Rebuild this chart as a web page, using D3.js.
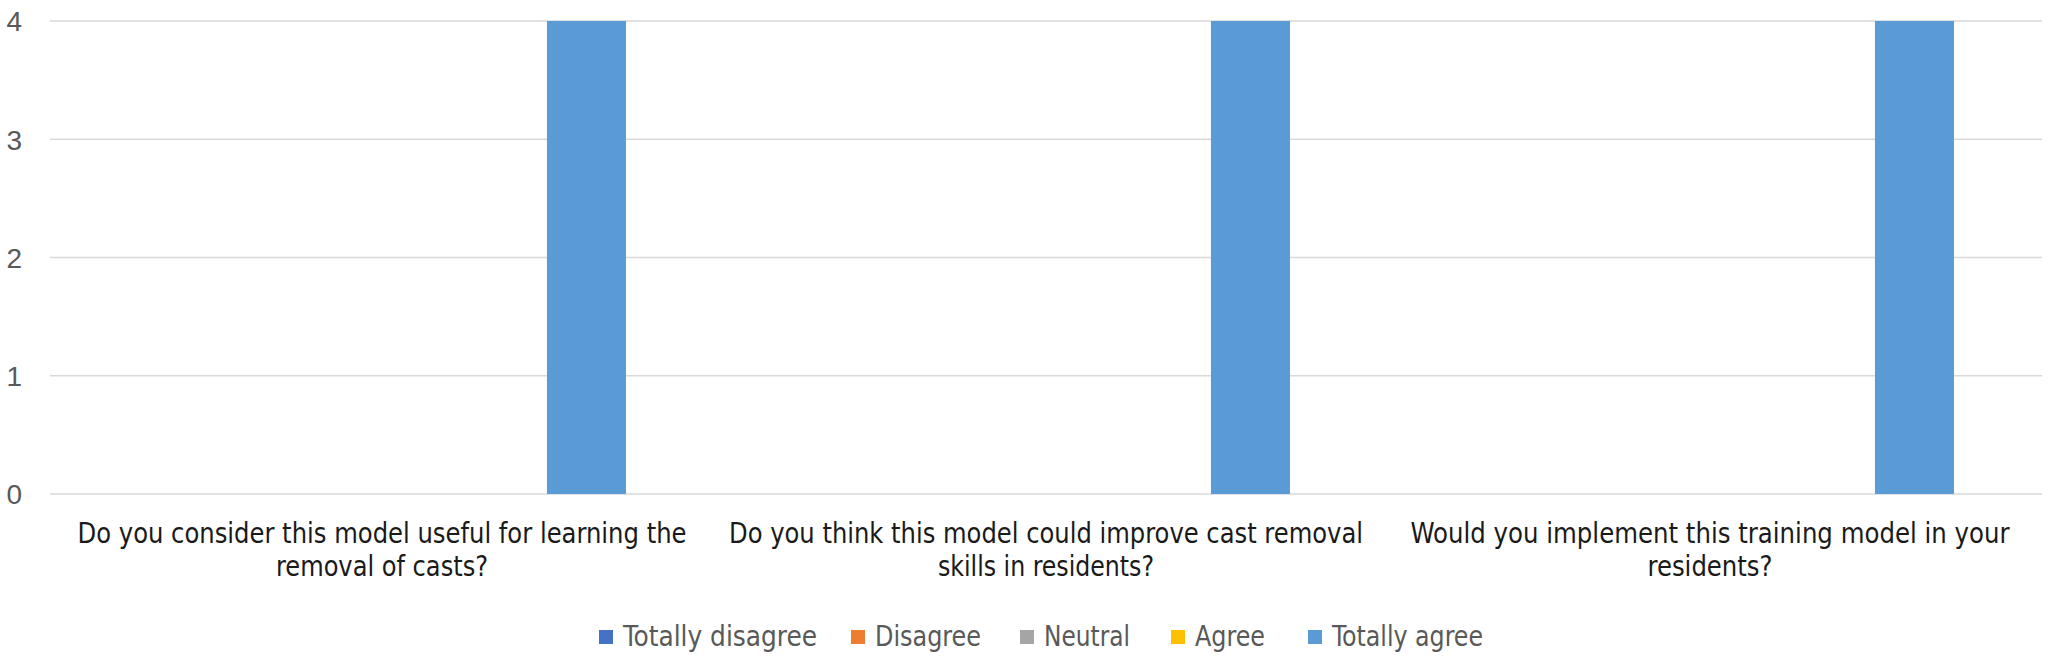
<!DOCTYPE html>
<html>
<head>
<meta charset="utf-8">
<script src="https://cdn.jsdelivr.net/npm/d3@7"></script>
<style>
  html, body { margin: 0; padding: 0; background: #fff; }
  svg { display: block; }
  text { font-family: "Liberation Sans Narrow", "Arial Narrow", "DejaVu Sans Condensed", sans-serif; }
</style>
</head>
<body>
<svg id="chart" width="2050" height="657"></svg>
<script>
// ---- data ----
const categories = [
  "Do you consider this model useful for learning the\nremoval of casts?",
  "Do you think this model could improve cast removal\nskills in residents?",
  "Would you implement this training model in your\nresidents?"
];
const seriesNames = ["Totally disagree", "Disagree", "Neutral", "Agree", "Totally agree"];
const totallyDisagree = [0, 0, 0];
const disagree        = [0, 0, 0];
const neutral         = [0, 0, 0];
const agree           = [0, 0, 0];
const totallyAgree    = [4, 4, 4];
const yTicks = [0, 1, 2, 3, 4];

// ---- styles / layout ----
const colors = ["#4472C4", "#ED7D31", "#A5A5A5", "#FFC000", "#5B9BD5"];
const W = 2050, H = 657;
const plot = { left: 50, right: 2042, top: 21, bottom: 494 };
const labelLineWidths = [[609, 212], [634, 216], [599, 125]];

const seriesValues = [totallyDisagree, disagree, neutral, agree, totallyAgree];
const table = categories.map((c, i) => ({
  cat: c,
  values: seriesNames.map((s, j) => ({ series: s, idx: j, value: seriesValues[j][i] }))
}));

const svg = d3.select("#chart");

const x0 = d3.scaleBand().domain(categories).range([plot.left, plot.right]).paddingInner(0).paddingOuter(0);
const x1 = d3.scaleBand().domain(seriesNames).range([0, x0.bandwidth()]).paddingInner(0.227).paddingOuter(0.861);
const y = d3.scaleLinear().domain([0, 4]).range([plot.bottom, plot.top]);

// gridlines
svg.append("g").selectAll("line").data(yTicks).join("line")
  .attr("x1", plot.left).attr("x2", plot.right)
  .attr("y1", d => y(d)).attr("y2", d => y(d))
  .attr("stroke", "#d9d9d9").attr("stroke-width", 1.6);

// y tick labels
const yAxis = d3.axisLeft(y).tickValues(yTicks).tickSize(0).tickPadding(0).tickFormat(d3.format("d"));
const ya = svg.append("g").attr("transform", "translate(22,0)").call(yAxis);
ya.select(".domain").remove();
ya.selectAll("text").attr("fill", "#595959").style("font-size", "28px")
  .style("font-family", "'Liberation Sans', 'DejaVu Sans', sans-serif")
  .attr("dy", "0.35em").attr("x", 0);

// bars
const groups = svg.append("g").selectAll("g").data(table).join("g")
  .attr("transform", d => `translate(${x0(d.cat)},0)`);
groups.selectAll("rect").data(d => d.values.filter(v => v.value > 0)).join("rect")
  .attr("x", d => x1(d.series))
  .attr("width", x1.bandwidth())
  .attr("y", d => y(d.value))
  .attr("height", d => y(0) - y(d.value))
  .attr("fill", d => colors[d.idx]);

// x labels
const xl = svg.append("g");
categories.forEach((c, i) => {
  const cx = x0(c) + x0.bandwidth() / 2;
  const lines = c.split("\n");
  const t = xl.append("text").attr("text-anchor", "middle").attr("fill", "#1a1a1a").style("font-size", "28px");
  lines.forEach((ln, k) => {
    t.append("tspan").attr("x", cx).attr("y", 543 + k * 33).text(ln)
      .attr("textLength", labelLineWidths[i][k]).attr("lengthAdjust", "spacingAndGlyphs");
  });
});

// legend
const legend = svg.append("g");
const legendWidths = [194, 106, 86, 70, 151];
const legendX = [599, 851, 1020, 1171, 1308];
seriesNames.forEach((s, j) => {
  const g = legend.append("g").attr("transform", `translate(${legendX[j]},0)`);
  g.append("rect").attr("x", 0).attr("y", 630).attr("width", 14).attr("height", 14).attr("fill", colors[j]);
  g.append("text").attr("x", 24).attr("y", 646).attr("fill", "#595959").style("font-size", "28px")
    .attr("textLength", legendWidths[j]).attr("lengthAdjust", "spacingAndGlyphs").text(s);
});
</script>
</body>
</html>
